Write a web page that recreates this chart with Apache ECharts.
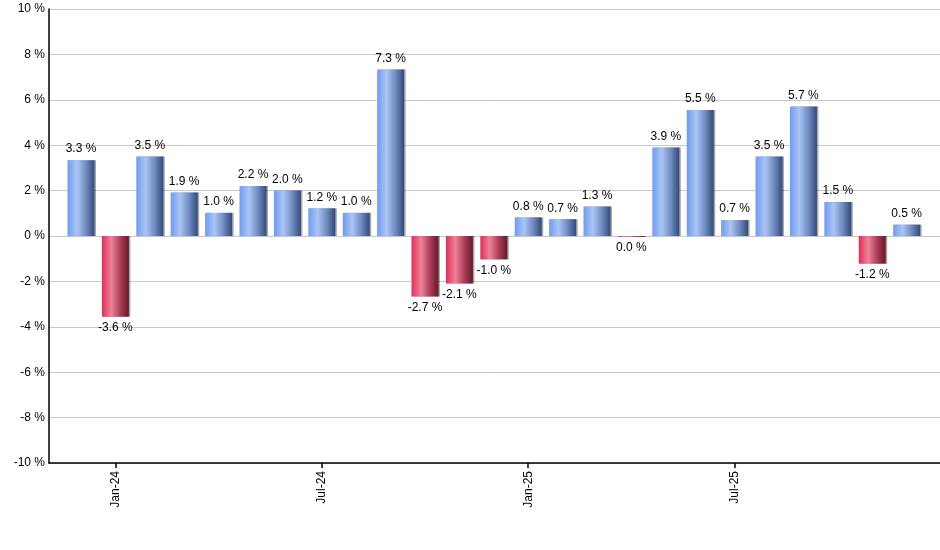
<!DOCTYPE html>
<html>
<head>
<meta charset="utf-8">
<script src="https://cdn.jsdelivr.net/npm/echarts@6/dist/echarts.min.js"></script>
<style>
  html, body { margin: 0; padding: 0; background: #fff; }
  #chart { width: 940px; height: 550px; }
</style>
</head>
<body>
<div id="chart"></div>
<script>
// 月份（Dec-23 ~ Dec-25）
const months = [
    'Dec-23', 'Jan-24', 'Feb-24', 'Mar-24', 'Apr-24', 'May-24', 'Jun-24', 'Jul-24',
    'Aug-24', 'Sep-24', 'Oct-24', 'Nov-24', 'Dec-24', 'Jan-25', 'Feb-25', 'Mar-25',
    'Apr-25', 'May-25', 'Jun-25', 'Jul-25', 'Aug-25', 'Sep-25', 'Oct-25', 'Nov-25', 'Dec-25'
];
// 月報酬 (%)
const returns = [
    3.34, -3.56, 3.5, 1.92, 1.02, 2.2, 2.0, 1.22,
    1.02, 7.33, -2.66, -2.09, -1.03, 0.82, 0.74, 1.3,
    -0.04, 3.9, 5.55, 0.7, 3.5, 5.7, 1.5, -1.22, 0.5
];
// 顯示標籤的月份
const labelMonths = ['Jan-24', 'Jul-24', 'Jan-25', 'Jul-25'];
const yTicks = [-10, -8, -6, -4, -2, 0, 2, 4, 6, 8, 10];

const blueGrad = new echarts.graphic.LinearGradient(0, 0, 1, 0, [
    { offset: 0, color: '#6f9bef' },
    { offset: 0.35, color: '#aac5f5' },
    { offset: 0.7, color: '#6c88bd' },
    { offset: 1, color: '#34497a' }
]);
const redGrad = new echarts.graphic.LinearGradient(0, 0, 1, 0, [
    { offset: 0, color: '#de2f58' },
    { offset: 0.35, color: '#ef8198' },
    { offset: 0.7, color: '#a83a55' },
    { offset: 1, color: '#681828' }
]);

const fmt = v => (Math.abs(v) < 0.05 ? '0.0' : v.toFixed(1)) + ' %';

const chart = echarts.init(document.getElementById('chart'));
chart.setOption({
    animation: false,
    grid: { left: 49, right: 0, top: 9, bottom: 87 },
    xAxis: {
        type: 'value',
        min: -0.93,
        max: 24.97,
        splitLine: { show: false },
        axisLine: { show: true, onZero: false, lineStyle: { color: '#000', width: 1.5 } },
        axisTick: {
            show: true,
            length: 5,
            customValues: labelMonths.map(m => months.indexOf(m)),
            lineStyle: { color: '#000', width: 1.5 }
        },
        axisLabel: {
            customValues: labelMonths.map(m => months.indexOf(m)),
            formatter: v => months[v],
            rotate: 90,
            fontFamily: 'Arial',
            fontSize: 12,
            color: '#000',
            margin: 8
        }
    },
    yAxis: {
        type: 'value',
        min: -10,
        max: 10,
        interval: 2,
        axisLine: { show: true, onZero: false, lineStyle: { color: '#000', width: 1.5 } },
        axisTick: { show: false },
        splitLine: { show: true, lineStyle: { color: '#c8c8c8', width: 1 } },
        axisLabel: {
            formatter: v => yTicks.includes(v) ? v + ' %' : '',
            fontFamily: 'Arial',
            fontSize: 12,
            color: '#000',
            margin: 4
        }
    },
    series: [{
        type: 'bar',
        barWidth: 27,
        data: returns.map((v, i) => ({
            value: [i, v],
            itemStyle: { color: v >= 0 ? blueGrad : redGrad },
            label: { position: v >= 0 ? 'top' : 'bottom' }
        })),
        itemStyle: {
            shadowColor: 'rgba(0,0,0,0.35)',
            shadowOffsetX: 1.5,
            shadowOffsetY: 0,
            shadowBlur: 0
        },
        label: {
            show: true,
            formatter: p => fmt(p.value[1]),
            fontFamily: 'Arial',
            fontSize: 12,
            color: '#000',
            distance: 5
        }
    }]
});
</script>
</body>
</html>
